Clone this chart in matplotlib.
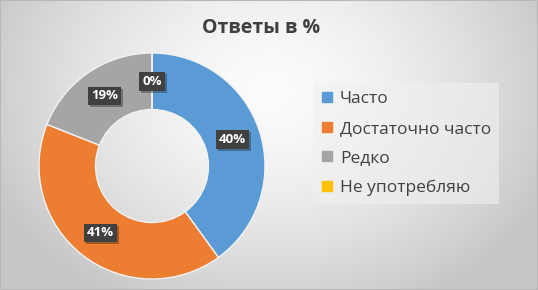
import numpy as np
import matplotlib
matplotlib.use("Agg")
from matplotlib import pyplot as plt
from matplotlib import patheffects
from matplotlib.lines import Line2D
from matplotlib.patches import Rectangle

plt.rcParams['font.family'] = ['Open Sans', 'DejaVu Sans']

# данные диаграммы
categories = ['Часто', 'Достаточно часто', 'Редко', 'Не употребляю']
values = [40, 41, 19, 0]
colors = ['#5B9BD5', '#ED7D31', '#A5A5A5', '#FFC000']
title = 'Ответы в %'

W, H = 538, 290
fig = plt.figure(figsize=(W / 100, H / 100), dpi=100)

# фон с радиальным градиентом
bg = fig.add_axes([0, 0, 1, 1])
yy, xx = np.mgrid[0:H, 0:W]
d = np.sqrt(((xx - 269) / 330.0) ** 2 + ((yy - 90) / 260.0) ** 2)
v = np.clip(252 - 60 * d ** 1.5, 198, 255) / 255.0
bg.imshow(np.dstack([v, v, v]), extent=[0, 1, 0, 1], aspect='auto', zorder=0)
bg.add_patch(Rectangle((0, 0), 1, 1, transform=bg.transAxes, fill=False,
                       edgecolor='#b8b8b8', lw=1.5))
bg.set_axis_off()

# кольцевая диаграмма
cx, cy, r = 152, 124, 113
half = 115
ax = fig.add_axes([(cx - half) / W, (cy - half) / H, 2 * half / W, 2 * half / H])
wedges, _ = ax.pie(values, colors=colors, startangle=90, counterclock=False,
                   radius=1, wedgeprops=dict(width=0.5, edgecolor='#f2f2f2', linewidth=1))
lim = half / r
ax.set_xlim(-lim, lim)
ax.set_ylim(-lim, lim)
ax.set_aspect('equal')
ax.set_axis_off()

for w, val in zip(wedges, values):
    ang = np.deg2rad((w.theta1 + w.theta2) / 2)
    x, y = 0.75 * np.cos(ang), 0.75 * np.sin(ang)
    t = ax.text(x, y, f'{val}%', ha='center', va='center', color='white',
                fontsize=9.5, fontweight='bold',
                bbox=dict(boxstyle='square,pad=0.22', fc='#404040', ec='none'))
    t.get_bbox_patch().set_path_effects([
        patheffects.SimplePatchShadow(offset=(1.5, -1.5), alpha=0.35), patheffects.Normal()])

# заголовок
fig.text(261 / W, 1 - 28 / H, title, ha='center', va='center', fontsize=14,
         fontweight='bold', color='#404040')

# легенда
handles = [Line2D([], [], marker='s', ls='none', markersize=7, color=c) for c in colors]
leg = fig.legend(handles, categories, loc='upper left', bbox_to_anchor=(313 / W, 1 - 83 / H),
                 fontsize=12.5, frameon=True, facecolor='#f0f0f0', edgecolor='none', framealpha=0.6,
                 fancybox=False, handlelength=0.7, handletextpad=0.4, labelspacing=0.78,
                 borderpad=0.45, borderaxespad=0)
for txt in leg.get_texts():
    txt.set_color('#404040')

fig.savefig('out.png', dpi=100)
